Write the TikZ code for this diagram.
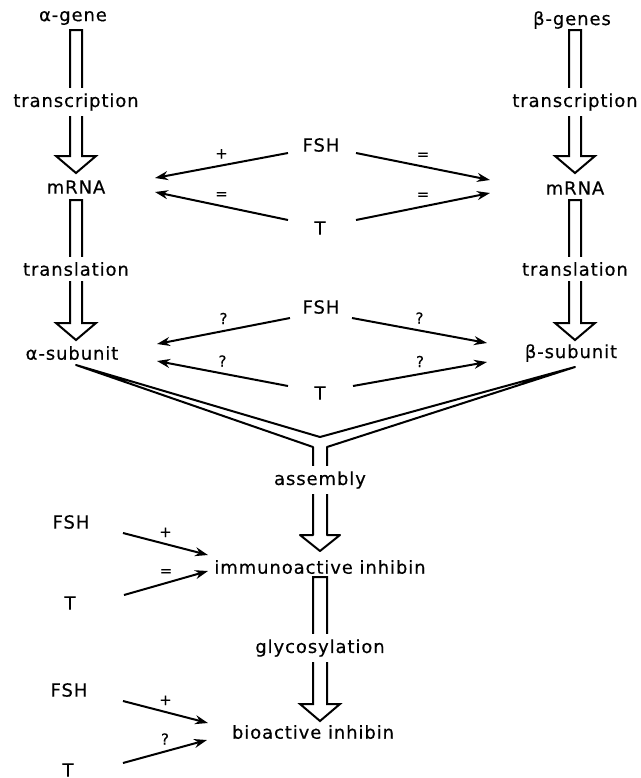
\documentclass[tikz,border=0pt]{standalone}
\usepackage{fontspec}
\setmainfont{DejaVu Sans}[LetterSpace=5, FakeBold=0.4]
\usepackage{tikz}
\usetikzlibrary{arrows.meta}
\usepackage{xcolor}

\begin{document}
\begin{tikzpicture}[x=0.5pt, y=-0.5pt]
          \tikzstyle{txt} = [font=\fontsize{9}{11}\selectfont, inner sep=1pt]
          \tikzstyle{proc} = [txt, fill=white, inner xsep=2pt, inner ysep=2.5pt]
          \tikzstyle{hollow} = [draw, line width=1pt, line join=miter]
          \tikzstyle{effect} = [draw, line width=1pt, -{Stealth[length=6.5pt, width=4.5pt]}]
          \tikzstyle{sign} = [font=\fontsize{7.5}{8}\selectfont, above=2.5pt, midway, inner sep=0.5pt]

          \useasboundingbox (0,0) rectangle (641,778);

          % Flechas huecas de las dos columnas
          \foreach \x in {76,575}
            \foreach \ya/\yb in {30/173, 200/340}
              \draw[hollow] (\x-6,\ya) -- (\x-6,\yb-17) -- (\x-20,\yb-17) -- (\x,\yb)
                -- (\x+20,\yb-17) -- (\x+6,\yb-17) -- (\x+6,\ya) -- cycle;

          % Ensamblaje (forma en Y)
          \draw[hollow, line join=round] (76,365) -- (313,447) -- (313,535) -- (300,535) -- (320,551)
            -- (340,535) -- (327,535) -- (327,447) -- (575,367) -- (320,437) -- cycle;

          % Glicosilacion
          \draw[hollow] (313,577) -- (313,704) -- (300,704) -- (320,721) -- (340,704)
            -- (327,704) -- (327,577) -- cycle;

          % Columna alfa
          \node[txt] (geneA) at (73,18) {α-gene};
          \node[proc] (transA) at (76,102) {transcription};
          \node[txt] (mrnaA) at (76,187) {mRNA};
          \node[proc] (translA) at (76,269) {translation};
          \node[txt] (subA) at (72,353) {α-subunit};

          % Columna beta
          \node[txt] (geneB) at (572,20) {β-genes};
          \node[proc] (transB) at (575,102) {transcription};
          \node[txt] (mrnaB) at (575,188) {mRNA};
          \node[proc] (translB) at (575,269) {translation};
          \node[txt] (subB) at (571,353) {β-subunit};

          % Centro
          \node[txt] (fsh1) at (321,145) {FSH};
          \node[txt] (t1) at (320,228) {T};
          \node[txt] (fsh2) at (321,307) {FSH};
          \node[txt] (t2) at (320,393) {T};
          \node[proc] (assem) at (320,480) {assembly};
          \node[txt] (imm) at (320,567) {immunoactive inhibin};
          \node[proc] (glyco) at (320,648) {glycosylation};
          \node[txt] (bio) at (313,732) {bioactive inhibin};

          % Hormonas abajo a la izquierda
          \node[txt] (fsh3) at (71,522) {FSH};
          \node[txt] (t3) at (70,603) {T};
          \node[txt] (fsh4) at (69,690) {FSH};
          \node[txt] (t4) at (68,770) {T};

          % Efectos sobre mRNA
          \draw[effect] ([shift={(-33,8)}]fsh1.center) -- node[sign] {+} ([shift={(79,-9)}]mrnaA.center);
          \draw[effect] ([shift={(-32,-8)}]t1.center) -- node[sign] {=} ([shift={(79,5)}]mrnaA.center);
          \draw[effect] ([shift={(35,8)}]fsh1.center) -- node[sign] {=} ([shift={(-85,-8)}]mrnaB.center);
          \draw[effect] ([shift={(36,-8)}]t1.center) -- node[sign] {=} ([shift={(-85,5)}]mrnaB.center);

          % Efectos sobre subunidades
          \draw[effect] ([shift={(-31,11)}]fsh2.center) -- node[sign] {?} ([shift={(85,-9)}]subA.center);
          \draw[effect] ([shift={(-32,-7)}]t2.center) -- node[sign] {?} ([shift={(85,8)}]subA.center);
          \draw[effect] ([shift={(31,11)}]fsh2.center) -- node[sign] {?} ([shift={(-84,-10)}]subB.center);
          \draw[effect] ([shift={(33,-7)}]t2.center) -- node[sign] {?} ([shift={(-84,9)}]subB.center);

          % Efectos sobre inhibina
          \draw[effect] ([shift={(52,11)}]fsh3.center) -- node[sign] {+} ([shift={(-112,-12)}]imm.center);
          \draw[effect] ([shift={(54,-8)}]t3.center) -- node[sign] {=} ([shift={(-112,4)}]imm.center);
          \draw[effect] ([shift={(54,11)}]fsh4.center) -- node[sign] {+} ([shift={(-105,-9)}]bio.center);
          \draw[effect] ([shift={(55,-7)}]t4.center) -- node[sign] {?} ([shift={(-106,8)}]bio.center);
        \end{tikzpicture}
\end{document}
